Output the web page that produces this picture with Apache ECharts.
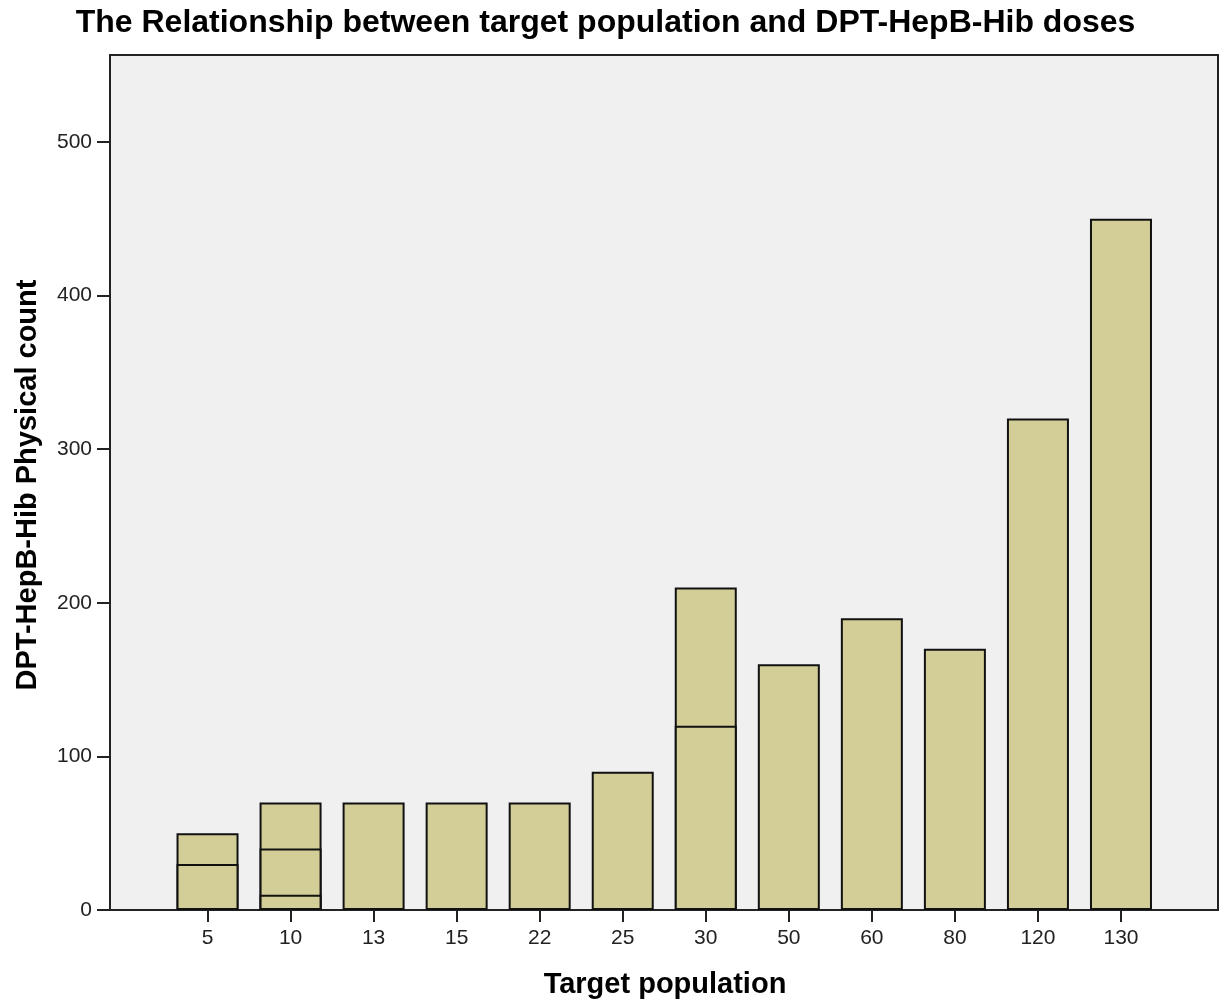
<!DOCTYPE html>
<html>
<head>
<meta charset="utf-8">
<script src="https://cdn.jsdelivr.net/npm/echarts@6/dist/echarts.min.js"></script>
<style>html,body{margin:0;padding:0;background:#fff}#c{width:1225px;height:1002px}</style>
</head>
<body>
<div id="c"></div>
<script>
// Data
var categories = ['5', '10', '13', '15', '22', '25', '30', '50', '60', '80', '120', '130'];
// overlapping cases per category (largest first, smaller drawn on top)
var casesA = [50, 70, 70, 70, 70, 90, 210, 160, 190, 170, 320, 450];
var casesB = [30, 40, null, null, null, null, 120, null, null, null, null, null];
var casesC = [null, 10, null, null, null, null, null, null, null, null, null, null];
var yTicks = [0, 100, 200, 300, 400, 500];
var titleText = 'The Relationship between target population and DPT-HepB-Hib doses';
var xTitle = 'Target population';
var yTitle = 'DPT-HepB-Hib Physical count';

var FONT = 'Liberation Sans, Arial, sans-serif';
var YMAX = 556.6;
var barFill = '#d3ce98';
var barBorder = '#111';

function barSeries(data, name) {
  return {
    type: 'bar', name: name, xAxisIndex: 1, yAxisIndex: 1,
    data: data, barWidth: 62, barGap: '-100%',
    itemStyle: { color: barFill, borderColor: barBorder, borderWidth: 2 },
    emphasis: { disabled: true }, animation: false
  };
}

var chart = echarts.init(document.getElementById('c'));
chart.setOption({
  animation: false,
  graphic: [
    { type: 'text', x: 605.5, y: 23, style: { text: titleText, font: 'bold 32px ' + FONT, fill: '#000', textAlign: 'center', textVerticalAlign: 'middle' } },
    { type: 'text', x: 665, y: 985, style: { text: xTitle, font: 'bold 29px ' + FONT, fill: '#000', textAlign: 'center', textVerticalAlign: 'middle' } },
    { type: 'text', x: 28, y: 485, rotation: Math.PI / 2, style: { text: yTitle, font: 'bold 29px ' + FONT, fill: '#000', textAlign: 'center', textVerticalAlign: 'middle' } }
  ],
  grid: [
    { left: 110, right: 7, top: 55, bottom: 92, show: true, backgroundColor: '#f0f0f0', borderColor: '#222', borderWidth: 2 },
    { left: 166, right: 62.5, top: 55, bottom: 92 }
  ],
  xAxis: [
    { type: 'value', gridIndex: 0, min: 0, max: 1, show: false },
    { type: 'category', gridIndex: 1, data: categories,
      axisLine: { show: false },
      axisTick: { show: true, alignWithLabel: true, length: 12, lineStyle: { color: '#222', width: 2 } },
      axisLabel: { margin: 18, fontFamily: FONT, fontSize: 21, color: '#222' } }
  ],
  yAxis: [
    { type: 'value', gridIndex: 0, min: 0, max: YMAX, interval: 100,
      axisLine: { show: false },
      axisTick: { show: true, length: 13, customValues: yTicks, lineStyle: { color: '#222', width: 2 } },
      axisLabel: { margin: 18, fontFamily: FONT, fontSize: 21, color: '#222', customValues: yTicks },
      splitLine: { show: false } },
    { type: 'value', gridIndex: 1, min: 0, max: YMAX, show: false, splitLine: { show: false } }
  ],
  series: [
    barSeries(casesA, 'A'),
    barSeries(casesB, 'B'),
    barSeries(casesC, 'C')
  ]
});
</script>
</body>
</html>
